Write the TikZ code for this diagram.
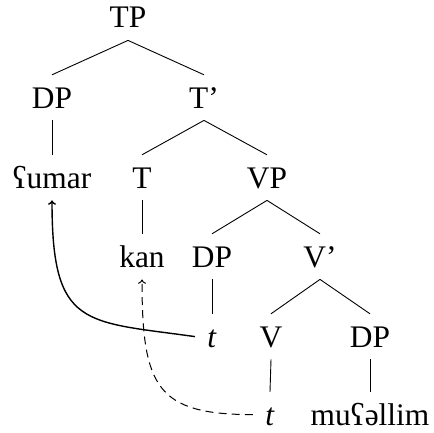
\documentclass[tikz,border=0pt]{standalone}
\usepackage{fontspec}
\usetikzlibrary{arrows.meta}
\setmainfont{Liberation Serif}
\begin{document}
\begin{tikzpicture}[x=0.5pt,y=-0.5pt,
  lab/.style={font=\fontsize{15.7}{18}\selectfont, text height=10.4pt, text depth=0pt, inner sep=6pt, anchor=base},
  branch/.style={line width=0.45pt},
  move/.style={-{To[length=2.2pt,width=4pt]}, line width=0.7pt},
  headmove/.style={-{To[length=2.2pt,width=4pt]}, line width=0.5pt, dash pattern=on 4pt off 2.6pt}]
\useasboundingbox (0,0) rectangle (433,433);
\node[lab] (TP) at (128,28) {TP};
\node[lab] (DPa) at (52,108) {DP};
\node[lab] (Tbar) at (204,108) {T’};
\node[lab] (umar) at (52,188) {ʕumar};
\node[lab] (T) at (142,188) {T};
\node[lab] (VP) at (267,188) {VP};
\node[lab] (kan) at (142,267) {kan};
\node[lab] (DPb) at (212,267) {DP};
\node[lab] (Vbar) at (320,267) {V’};
\node[lab] (ta) at (212,347) {\textit{t}};
\node[lab] (V) at (271,347) {V};
\node[lab] (DPc) at (370,347) {DP};
\node[lab] (tb) at (270,425) {\textit{t}};
\node[lab] (obj) at (370,425) {muʕəllim};
\draw[branch] (TP.south) -- (DPa.north);
\draw[branch] (TP.south) -- (Tbar.north);
\draw[branch] (DPa.south) -- (umar.north);
\draw[branch] (Tbar.south) -- (T.north);
\draw[branch] (Tbar.south) -- (VP.north);
\draw[branch] (T.south) -- (kan.north);
\draw[branch] (VP.south) -- (DPb.north);
\draw[branch] (VP.south) -- (Vbar.north);
\draw[branch] (DPb.south) -- (ta.north);
\draw[branch] (Vbar.south) -- (V.north);
\draw[branch] (Vbar.south) -- (DPc.north);
\draw[branch] (V.south) -- (tb.north);
\draw[branch] (DPc.south) -- (obj.north);
\draw[move] (ta.west) .. controls +(172:56pt) and +(-90:64pt) .. (umar.south);
\draw[headmove] (tb.west) .. controls +(180:48pt) and +(-90:54pt) .. (kan.south);
\end{tikzpicture}
\end{document}
